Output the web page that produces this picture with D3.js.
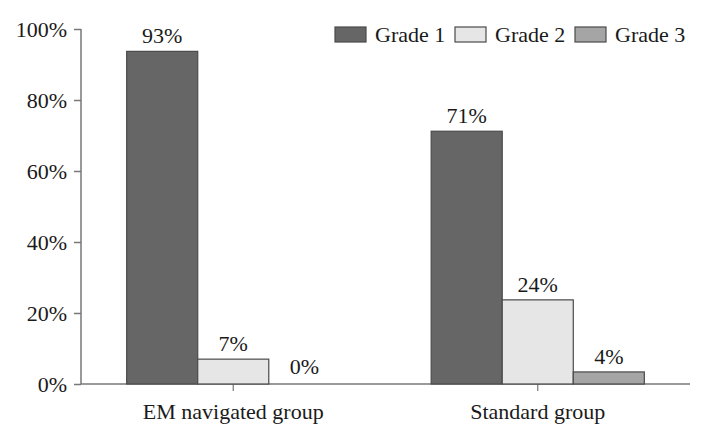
<!DOCTYPE html>
<html>
<head>
<meta charset="utf-8">
<script src="https://cdn.jsdelivr.net/npm/d3@7"></script>
<style>
  body { margin: 0; background: #fff; }
  text { font-family: "Liberation Serif", "DejaVu Serif", serif; fill: #1a1a1a; }
</style>
</head>
<body>
<div id="chart"></div>
<script>
var groups = ["EM navigated group", "Standard group"];
var grades = ["Grade 1", "Grade 2", "Grade 3"];
var grade1 = [93.7, 71.2];
var grade2 = [7.0, 23.7];
var grade3 = [0, 3.4];
var labels1 = ["93%", "71%"];
var labels2 = ["7%", "24%"];
var labels3 = ["0%", "4%"];
var yTicks = [0, 20, 40, 60, 80, 100];

var W = 711, H = 443;
var margin = {top: 29, right: 21, bottom: 59, left: 81};
var width = W - margin.left - margin.right,
    height = H - margin.top - margin.bottom;
var fontSize = "22px";

var svg = d3.select("#chart").append("svg")
    .attr("width", W)
    .attr("height", H)
  .append("g")
    .attr("transform", "translate(" + margin.left + "," + margin.top + ")");

var rows = [];
groups.forEach(function(g, i) {
  rows.push({group: g, grade: grades[0], value: grade1[i], label: labels1[i]});
  rows.push({group: g, grade: grades[1], value: grade2[i], label: labels2[i]});
  rows.push({group: g, grade: grades[2], value: grade3[i], label: labels3[i]});
});

var x0 = d3.scaleBand()
    .domain(groups)
    .range([0, width])
    .paddingInner(0.3)
    .paddingOuter(0.15);

var x1 = d3.scaleBand()
    .domain(grades)
    .range([0, x0.bandwidth()]);

var y = d3.scaleLinear()
    .domain([0, 100])
    .range([height, 0]);

var color = d3.scaleOrdinal()
    .domain(grades)
    .range(["#666666", "#e6e6e6", "#a5a5a5"]);

// y axis
var yAxis = svg.append("g")
    .call(d3.axisLeft(y).tickValues(yTicks).tickSize(7).tickPadding(7)
      .tickFormat(function(d) { return d + "%"; }));
yAxis.select(".domain").attr("d", "M0," + height + "V0").attr("stroke", "#777").attr("stroke-width", 1.5);
yAxis.selectAll(".tick line").attr("stroke", "#777").attr("stroke-width", 1.5);
yAxis.selectAll("text").style("font-size", fontSize).attr("fill", "#1a1a1a");

// x axis
var xAxis = svg.append("g")
    .attr("transform", "translate(0," + height + ")")
    .call(d3.axisBottom(x0).tickSize(7).tickPadding(12));
xAxis.select(".domain").attr("d", "M0,0H" + width).attr("stroke", "#777").attr("stroke-width", 1.5);
xAxis.selectAll(".tick line").attr("stroke", "#777").attr("stroke-width", 1.2);
xAxis.selectAll("text").style("font-size", fontSize).attr("fill", "#1a1a1a");

// bars
var bars = svg.selectAll(".bar")
    .data(rows)
    .enter().append("g")
    .attr("transform", function(d) { return "translate(" + x0(d.group) + ",0)"; });

bars.append("rect")
    .attr("x", function(d) { return x1(d.grade); })
    .attr("y", function(d) { return y(d.value); })
    .attr("width", x1.bandwidth())
    .attr("height", function(d) { return height - y(d.value); })
    .attr("fill", function(d) { return color(d.grade); })
    .attr("stroke", function(d) { return d.value > 0 ? "#4a4a4a" : "none"; })
    .attr("stroke-width", 1.2);

bars.append("text")
    .attr("x", function(d) { return x1(d.grade) + x1.bandwidth() / 2; })
    .attr("y", function(d) { return y(d.value) - (d.value > 0 ? 8 : 10); })
    .attr("text-anchor", "middle")
    .style("font-size", fontSize)
    .text(function(d) { return d.label; });

// legend
var legendX = [335 - margin.left, 455 - margin.left, 575 - margin.left];
var legend = svg.selectAll(".legend")
    .data(grades)
    .enter().append("g")
    .attr("transform", function(d, i) { return "translate(" + legendX[i] + "," + (27 - margin.top) + ")"; });

legend.append("rect")
    .attr("width", 31)
    .attr("height", 15)
    .attr("fill", function(d) { return color(d); })
    .attr("stroke", "#4a4a4a")
    .attr("stroke-width", 1.2);

legend.append("text")
    .attr("x", 40)
    .attr("y", 15)
    .style("font-size", fontSize)
    .text(function(d) { return d; });
</script>
</body>
</html>
